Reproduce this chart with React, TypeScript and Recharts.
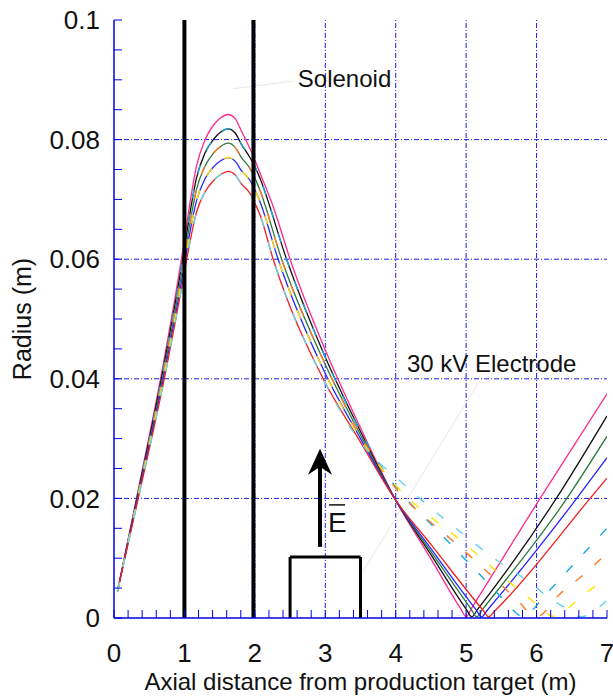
import {
  Line,
  LineChart,
  ReferenceDot,
  ReferenceLine,
  XAxis,
  YAxis,
} from 'recharts'

const FONT = '"Liberation Sans", Arial, Helvetica, sans-serif'
const FRAME = '#0000e6'

// axes
const xLabels = [0, 1, 2, 3, 4, 5, 6, 7]
const yLabels = [0, 0.02, 0.04, 0.06, 0.08, 0.1]
const xGrid = [1, 2, 3, 4, 5, 6]
const yGrid = [0.02, 0.04, 0.06, 0.08]
const xTicks = Array.from({ length: 36 }, (_, i) => Math.round(i * 2) / 10)
const yTicks = Array.from({ length: 21 }, (_, i) => Math.round(i * 5) / 1000)

// annotations (data units)
const solenoidEdges = [1, 1.98]
const electrodeX = [2.5, 3.5]
const electrodeTop = 0.0102
const arrowX = 2.925
const arrowFrom = 0.0119
const arrowTip = 0.0283

// trajectories [x (m), r (m)]
const pink = [
  [0.05, 0.0045], [0.35, 0.0218], [0.7, 0.0425], [1.0, 0.0632], [1.08, 0.0695],
  [1.17, 0.0755], [1.29, 0.0799], [1.41, 0.0824], [1.52, 0.0837], [1.62, 0.0842],
  [1.72, 0.0835], [1.81, 0.0814], [1.93, 0.0785], [2.0, 0.0766], [2.07, 0.0745],
  [2.26, 0.0688], [2.5, 0.06], [3.0, 0.0448], [3.5, 0.0318], [4.0, 0.0197],
  [4.5, 0.0099], [4.92, 0.0016], [5.0, 0.0002], [5.08, 0.0017], [6.05, 0.02],
  [7.0, 0.0375],
]
const black = [
  [0.05, 0.0045], [0.35, 0.0214], [0.7, 0.0417], [1.0, 0.0618], [1.08, 0.0678],
  [1.17, 0.0735], [1.29, 0.0777], [1.41, 0.08], [1.52, 0.0813], [1.62, 0.0818],
  [1.72, 0.0811], [1.81, 0.0792], [1.93, 0.077], [2.0, 0.0755], [2.07, 0.0736],
  [2.45, 0.06], [3.0, 0.0436], [3.5, 0.0312], [4.0, 0.0197], [4.5, 0.0106],
  [5.0, 0.0015], [5.08, 0.0002], [5.16, 0.0014], [6.28, 0.02], [7.0, 0.0338],
]
const green = [
  [0.05, 0.0045], [0.35, 0.021], [0.7, 0.0408], [1.0, 0.0604], [1.08, 0.0662],
  [1.17, 0.0716], [1.29, 0.0755], [1.41, 0.0777], [1.52, 0.0789], [1.62, 0.0794],
  [1.72, 0.0787], [1.81, 0.077], [1.93, 0.0752], [2.0, 0.0736], [2.07, 0.0716],
  [2.38, 0.06], [3.0, 0.0424], [3.5, 0.0306], [4.0, 0.0197], [4.5, 0.0111],
  [5.07, 0.0015], [5.15, 0.0002], [5.23, 0.0014], [6.43, 0.02], [7.0, 0.0304],
]
const blue = [
  [0.05, 0.0045], [0.35, 0.0207], [0.7, 0.04], [1.0, 0.059], [1.08, 0.0646],
  [1.17, 0.0697], [1.29, 0.0734], [1.41, 0.0754], [1.52, 0.0765], [1.62, 0.077],
  [1.72, 0.0764], [1.81, 0.0748], [1.93, 0.0732], [2.0, 0.0716], [2.07, 0.0697],
  [2.33, 0.06], [3.0, 0.0409], [3.5, 0.03], [4.0, 0.0197], [4.5, 0.0116],
  [5.14, 0.0014], [5.22, 0.0002], [5.3, 0.0013], [6.57, 0.02], [7.0, 0.0268],
]
const red = [
  [0.05, 0.0045], [0.35, 0.0203], [0.7, 0.0392], [1.0, 0.0578], [1.08, 0.063],
  [1.17, 0.0678], [1.29, 0.0712], [1.41, 0.0731], [1.52, 0.0742], [1.62, 0.0747],
  [1.72, 0.0741], [1.81, 0.0726], [1.93, 0.071], [2.0, 0.0694], [2.07, 0.0675],
  [2.26, 0.06], [2.97, 0.04], [3.5, 0.0294], [4.0, 0.0197], [4.5, 0.0123],
  [5.24, 0.0013], [5.32, 0.0002], [5.4, 0.0011], [6.76, 0.02], [7.0, 0.0234],
]
// dashed ones follow a solid partner up to x = 3.5, then split off
const cyanTail = [
  [3.8, 0.0252], [4.67, 0.0137], [4.97, 0.01], [5.24, 0.0067], [5.53, 0.0031],
  [5.8, 0.0003], [6.15, 0.0042], [6.41, 0.0075], [6.7, 0.0112], [7.0, 0.015],
]
const orangeTail = [
  [3.9, 0.0232], [4.8, 0.013], [5.09, 0.01], [5.41, 0.0065], [5.71, 0.0032],
  [6.0, 0.0002], [6.32, 0.0039], [6.63, 0.0069], [7.0, 0.0108],
]
const yellowTail = [
  [4.0, 0.0222], [4.9, 0.0132], [5.17, 0.0105], [5.47, 0.0074], [5.8, 0.0042],
  [6.09, 0.0015], [6.22, 0.0003], [6.7, 0.0042], [7.0, 0.0068],
]
const paleTail = [
  [4.1, 0.0225], [4.97, 0.0139], [5.26, 0.0112], [5.55, 0.0087], [5.85, 0.0064],
  [6.19, 0.0033], [6.48, 0.0012], [6.62, 0.0002], [7.0, 0.003],
]

const head = (a: number[][]) => a.filter(([x]) => x <= 3.5)
const pts = (a: number[][]) => a.map(([x, y]) => ({ x, y }))

const solids = [
  { key: 'pink', color: '#ff2a90', data: pink },
  { key: 'black', color: '#111111', data: black },
  { key: 'green', color: '#2c7a3c', data: green },
  { key: 'blue', color: '#2626ff', data: blue },
  { key: 'red', color: '#f41e1e', data: red },
]
const dashed = [
  { key: 'cyan', color: '#1ba6df', data: [...head(black), ...cyanTail] },
  { key: 'orange', color: '#ff7a2a', data: [...head(green), ...orangeTail] },
  { key: 'yellow', color: '#ffe100', data: [...head(blue), ...yellowTail] },
  { key: 'pale', color: '#66d4ea', data: [...head(red), ...paleTail] },
]

const fmtX = (v: number) => (xLabels.includes(v) ? String(v) : '')
const fmtY = (v: number) =>
  yLabels.some((l) => Math.abs(l - v) < 1e-9) ? String(+v.toFixed(2)) : ''

const tickStyle = { fontSize: 26, fill: '#111', fontFamily: FONT }

function TextMark(props: any) {
  const { cx, cy, text, size } = props
  return (
    <text x={cx} y={cy} fontSize={size} fontFamily={FONT} fill="#111">
      {text}
    </text>
  )
}

export default function App() {
  return (
    <div style={{ position: 'absolute', left: 0, top: 0, width: 613, height: 698, background: '#fff' }}>
      <LineChart
        width={613}
        height={698}
        margin={{ top: 20, right: 6, bottom: 0, left: 0 }}
        style={{ fontFamily: FONT }}
      >
        <XAxis
          dataKey="x"
          type="number"
          domain={[0, 7]}
          ticks={xTicks}
          interval={0}
          height={80}
          tickSize={-8}
          tickMargin={34}
          tickFormatter={fmtX}
          tick={tickStyle}
          axisLine={{ stroke: FRAME, strokeWidth: 1.5 }}
          tickLine={{ stroke: FRAME }}
          allowDataOverflow
          label={{
            value: 'Axial distance from production target (m)',
            position: 'insideBottom',
            offset: 8,
            style: { fontSize: 24, fill: '#111', fontFamily: FONT },
          }}
        />
        <XAxis
          xAxisId="top"
          orientation="top"
          dataKey="x"
          type="number"
          domain={[0, 7]}
          ticks={xTicks}
          interval={0}
          height={0}
          tickSize={-8}
          tick={false}
          axisLine={{ stroke: FRAME, strokeWidth: 1.5 }}
          tickLine={{ stroke: FRAME }}
          allowDataOverflow
        />
        <YAxis
          type="number"
          domain={[0, 0.1]}
          ticks={yTicks}
          interval={0}
          width={114}
          tickSize={-8}
          tickMargin={22}
          tickFormatter={fmtY}
          tick={tickStyle}
          axisLine={{ stroke: FRAME, strokeWidth: 1.5 }}
          tickLine={{ stroke: FRAME }}
          allowDataOverflow
          label={{
            value: 'Radius (m)',
            angle: -90,
            position: 'insideLeft',
            offset: 22,
            style: { textAnchor: 'middle', fontSize: 25, fill: '#111', fontFamily: FONT },
          }}
        />
        <YAxis
          yAxisId="right"
          orientation="right"
          type="number"
          domain={[0, 0.1]}
          ticks={yTicks}
          interval={0}
          width={0}
          tickSize={-8}
          tick={false}
          axisLine={{ stroke: FRAME, strokeWidth: 1.5 }}
          tickLine={{ stroke: FRAME }}
          allowDataOverflow
        />

        {xGrid.map((v) => (
          <ReferenceLine key={`gx${v}`} x={v} stroke={FRAME} strokeWidth={0.9} strokeDasharray="5 2 1 2" />
        ))}
        {yGrid.map((v) => (
          <ReferenceLine key={`gy${v}`} y={v} stroke={FRAME} strokeWidth={0.9} strokeDasharray="5 2 1 2" />
        ))}

        {/* faint leader lines */}
        <ReferenceLine segment={[{ x: 1.69, y: 0.0885 }, { x: 2.54, y: 0.0898 }]} stroke="#e8e8e8" />
        <ReferenceLine segment={[{ x: 3.49, y: 0.0069 }, { x: 5.17, y: 0.0393 }]} stroke="#e8e8e8" />

        {solids.map((s) => (
          <Line
            key={s.key}
            data={pts(s.data)}
            dataKey="y"
            type="monotone"
            stroke={s.color}
            strokeWidth={1.3}
            dot={false}
            activeDot={false}
            isAnimationActive={false}
          />
        ))}
        {dashed.map((s) => (
          <Line
            key={s.key}
            data={pts(s.data)}
            dataKey="y"
            type="monotone"
            stroke={s.color}
            strokeWidth={1.4}
            strokeDasharray="9 16"
            dot={false}
            activeDot={false}
            isAnimationActive={false}
          />
        ))}

        {solenoidEdges.map((v) => (
          <ReferenceLine key={`sol${v}`} x={v} stroke="#000" strokeWidth={4} />
        ))}

        {/* electrode */}
        <ReferenceLine segment={[{ x: electrodeX[0], y: 0 }, { x: electrodeX[0], y: electrodeTop }]} stroke="#000" strokeWidth={3} />
        <ReferenceLine segment={[{ x: electrodeX[0], y: electrodeTop }, { x: electrodeX[1], y: electrodeTop }]} stroke="#000" strokeWidth={3} />
        <ReferenceLine segment={[{ x: electrodeX[1], y: electrodeTop }, { x: electrodeX[1], y: 0 }]} stroke="#000" strokeWidth={3} />

        {/* field arrow */}
        <ReferenceLine segment={[{ x: arrowX, y: arrowFrom }, { x: arrowX, y: arrowTip - 0.003 }]} stroke="#000" strokeWidth={4} />
        <ReferenceDot
          x={arrowX}
          y={arrowTip}
          r={0}
          shape={(p: any) => (
            <path d={`M${p.cx},${p.cy} l12,26 l-12,-8 l-12,8 z`} fill="#000" />
          )}
        />
        <ReferenceDot
          x={3.04}
          y={0.0144}
          r={0}
          shape={(p: any) => (
            <g>
              <line x1={p.cx + 1} x2={p.cx + 17} y1={p.cy - 27} y2={p.cy - 27} stroke="#111" strokeWidth={1.5} />
              <TextMark cx={p.cx} cy={p.cy} text="E" size={28} />
            </g>
          )}
        />

        <ReferenceDot x={2.61} y={0.0888} r={0} shape={(p: any) => <TextMark cx={p.cx} cy={p.cy} text="Solenoid" size={24} />} />
        <ReferenceDot x={4.16} y={0.0411} r={0} shape={(p: any) => <TextMark cx={p.cx} cy={p.cy} text="30 kV Electrode" size={24} />} />
      </LineChart>
    </div>
  )
}
